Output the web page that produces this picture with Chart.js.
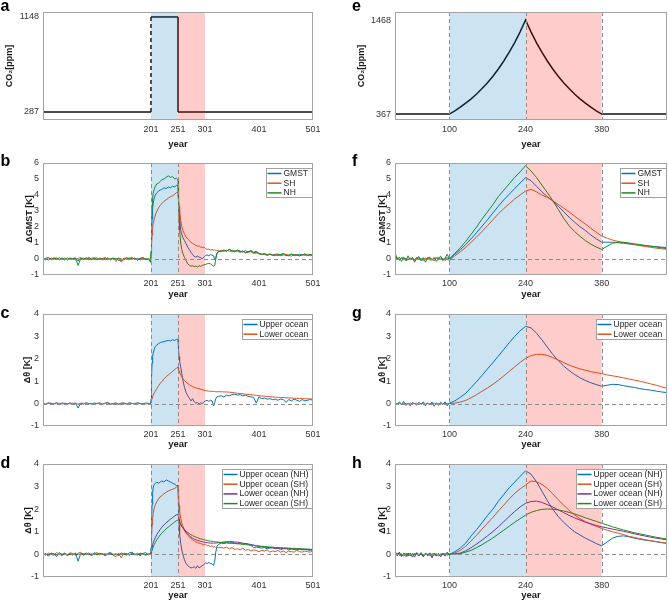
<!DOCTYPE html>
<html><head><meta charset="utf-8">
<script src="https://cdn.jsdelivr.net/npm/chart.js@4.4.1/dist/chart.umd.min.js"></script>
<style>
html,body{margin:0;padding:0;background:#fff;}
body{width:669px;height:603px;position:relative;overflow:hidden;}
canvas{position:absolute;}
</style></head><body>
<canvas id="pa" width="335" height="150" style="left:0px;top:0px"></canvas>
<canvas id="pb" width="335" height="150" style="left:0px;top:150px"></canvas>
<canvas id="pc" width="335" height="150" style="left:0px;top:300px"></canvas>
<canvas id="pd" width="335" height="153" style="left:0px;top:450px"></canvas>
<canvas id="pe" width="334" height="150" style="left:335px;top:0px"></canvas>
<canvas id="pf" width="334" height="150" style="left:335px;top:150px"></canvas>
<canvas id="pg" width="334" height="150" style="left:335px;top:300px"></canvas>
<canvas id="ph" width="334" height="153" style="left:335px;top:450px"></canvas>
<script>
// ---------- tick labels / periods ----------
const XTICKS_L = [201, 251, 301, 401, 501];
const XTICKS_R = [100, 240, 380];
const YTICKS_A = [287, 1148];
const YTICKS_E = [367, 1468];
const YTICKS_GMST = [-1, 0, 1, 2, 3, 4, 5, 6];
const YTICKS_OCEAN = [-1, 0, 1, 2, 3, 4];
const PERIOD_L = [201, 251, 301];
const PERIOD_R = [100, 240, 380];

// ---------- CO2 forcing ----------
const CO2_A_YEARS = [1, 201, 201, 251, 251, 501];
const CO2_A = [287, 287, 1148, 1148, 287, 287];
const CO2_E_YEARS = [0, 100, 110, 120, 130, 140, 150, 160, 170, 180, 190, 200, 210, 220, 230, 240,
  250, 260, 270, 280, 290, 300, 310, 320, 330, 340, 350, 360, 370, 380, 500];
const CO2_E = [367, 367, 405, 447, 494, 545, 602, 665, 734, 810, 895, 988, 1091, 1204, 1330, 1468,
  1330, 1204, 1091, 988, 895, 810, 734, 665, 602, 545, 494, 447, 405, 367, 367];

// ---------- left column years ----------
const YEARS_L = [
  1,6,11,16,21,26,31,36,41,46, 51,56,61,66,71,76,81,86,91,96, 101,106,111,116,121,126,131,136,141,146, 151,156,161,166,171,176,181,186,191,196, 200,
  201,202,203,204,205,207,209,212,215,218,221,225,229,233,237,241,245,248,
  251,252,253,254,256,258,260,263,266,269,272,275,278,281,284,287,290,293,296,299,302,305,308,311,314,317,319,321,323,326,
  331,336,341,346,351,356,361,366,371,376, 381,386,391,396,401,406,411,416,421,426, 431,436,441,446,451,456,461,466,471,476, 481,486,491,496,501
];
// panel b
const GMST_L = [
  -0.05,0.03,-0.08,0.06,0.02,-0.04,0.08,-0.02,0.05,-0.06,
  0.04,-0.03,0.07,-0.12,0.02,0.05,-0.04,0.1,-0.02,0.03,
  -0.06,0.05,0.01,-0.03,0.08,-0.05,0.04,0.02,-0.08,-0.1,
  0.06,-0.02,0.05,0.08,-0.03,0.04,-0.05,0.07,0.02,-0.04,
  -0.1,
  0.3,1.6,2.5,3.1,3.5,3.8,4.0,4.15,4.25,4.3,4.35,4.45,4.4,4.5,4.45,4.55,4.5,4.6,
  4.6,3.6,3.0,2.5,1.8,1.55,1.35,1.15,0.95,0.75,0.58,0.42,0.28,0.15,0.12,0.18,0.12,0.08,0.02,0.1,0.22,0.25,0.2,0.27,0.24,0.2,-0.05,0.1,0.38,0.45,
  0.5,0.55,0.48,0.6,0.5,0.45,0.55,0.5,0.42,0.52,
  0.45,0.52,0.42,0.48,0.35,0.3,0.32,0.28,0.3,0.25,
  0.3,0.22,0.28,0.35,0.25,0.2,0.3,0.26,0.22,0.3,
  0.25,0.32,0.22,0.28,0.25
];
const SH_L = [
  0.02,-0.06,0.05,-0.03,0.08,0.03,-0.05,0.06,0.0,-0.04,
  0.07,0.02,-0.05,0.04,0.09,-0.02,0.03,-0.06,0.05,0.08,
  -0.03,0.04,-0.07,0.06,0.02,-0.04,0.05,-0.15,0.03,-0.2,
  0.02,0.06,-0.04,0.05,0.03,-0.06,0.04,0.02,-0.05,0.03,
  -0.05,
  0.2,0.9,1.5,1.9,2.2,2.5,2.75,3.0,3.2,3.35,3.45,3.6,3.7,3.8,3.9,3.95,4.05,4.15,
  4.2,3.7,3.3,2.9,2.4,2.05,1.8,1.55,1.38,1.25,1.15,1.05,0.98,0.92,0.85,0.8,0.82,0.75,0.72,0.75,0.65,0.6,0.62,0.55,0.6,0.55,0.58,0.52,0.55,0.5,
  0.52,0.48,0.55,0.5,0.45,0.52,0.48,0.42,0.5,0.38,
  0.42,0.45,0.35,0.38,0.32,0.28,0.35,0.25,0.3,0.22,
  0.28,0.32,0.2,0.25,0.3,0.22,0.18,0.28,0.24,0.2,
  0.27,0.22,0.3,0.2,0.25
];
const NH_L = [
  -0.08,0.04,0.1,-0.05,0.02,0.07,-0.03,0.05,-0.06,0.08,
  -0.02,0.03,0.06,-0.4,0.05,-0.03,0.08,0.02,-0.05,0.04,
  0.07,-0.04,0.03,0.09,-0.06,0.02,0.05,-0.03,0.06,0.0,
  -0.05,0.08,0.03,-0.02,0.06,-0.07,0.04,0.1,-0.03,0.02,
  -0.2,
  0.5,2.4,3.3,3.8,4.1,4.35,4.55,4.7,4.75,4.85,4.95,5.0,5.1,5.2,5.1,5.15,5.0,5.05,
  4.95,3.4,2.4,1.8,1.0,0.6,0.35,0.1,-0.1,-0.3,-0.38,-0.45,-0.42,-0.48,-0.44,-0.5,-0.42,-0.46,-0.4,-0.37,-0.34,-0.3,-0.27,-0.3,-0.38,-0.45,-0.4,0.0,0.3,0.5,
  0.45,0.55,0.5,0.6,0.52,0.48,0.55,0.45,0.5,0.4,
  0.45,0.5,0.4,0.42,0.35,0.28,0.3,0.22,0.3,0.25,
  0.2,0.28,0.25,0.32,0.2,0.25,0.3,0.22,0.28,0.2,
  0.25,0.3,0.22,0.28,0.2
];
// panel c
const UPPER_L = [
  0.02,-0.03,0.04,0.0,-0.02,0.05,-0.04,0.03,0.01,-0.03,
  0.04,-0.02,0.03,-0.2,0.02,-0.03,0.04,0.0,-0.02,0.03,
  -0.01,0.04,-0.03,0.02,0.05,-0.02,0.0,0.03,-0.04,0.02,
  0.03,-0.02,0.04,0.01,-0.03,0.05,0.0,-0.02,0.03,0.01,
  -0.02,
  0.2,1.2,1.8,2.1,2.25,2.42,2.55,2.62,2.68,2.72,2.75,2.76,2.8,2.82,2.8,2.85,2.82,2.87,
  2.85,2.4,2.1,1.9,1.65,1.35,1.05,0.72,0.5,0.35,0.24,0.12,0.22,0.08,0.02,0.05,-0.02,0.03,0.0,0.08,0.12,0.15,0.1,0.15,0.12,-0.1,0.05,0.22,0.3,0.32,
  0.35,0.3,0.38,0.35,0.4,0.42,0.38,0.4,0.35,0.38,
  0.32,0.3,0.28,0.02,0.3,0.22,0.25,0.2,0.22,0.18,
  0.2,0.15,0.2,0.18,0.05,0.18,0.12,0.2,0.15,0.1,
  0.18,0.12,0.15,0.18,0.15
];
const LOWER_L = [
  0.0,-0.02,0.01,0.02,-0.01,0.0,0.02,-0.02,0.01,0.0,
  -0.01,0.02,0.0,-0.02,0.01,0.02,-0.01,0.0,0.01,-0.02,
  0.02,0.0,-0.01,0.01,0.02,-0.02,0.0,0.01,-0.01,0.02,
  0.0,-0.02,0.01,0.0,0.02,-0.01,0.01,0.0,-0.02,0.01,
  0.0,
  0.05,0.15,0.25,0.32,0.38,0.48,0.56,0.68,0.8,0.9,0.98,1.1,1.2,1.28,1.36,1.44,1.52,1.58,
  1.62,1.52,1.45,1.38,1.28,1.2,1.12,1.03,0.96,0.9,0.85,0.8,0.76,0.73,0.7,0.68,0.66,0.64,0.62,0.6,0.58,0.57,0.56,0.55,0.55,0.54,0.54,0.53,0.53,0.53,
  0.53,0.52,0.52,0.51,0.5,0.48,0.46,0.45,0.44,0.42,
  0.41,0.4,0.38,0.37,0.35,0.34,0.33,0.32,0.31,0.3,
  0.29,0.28,0.27,0.27,0.26,0.25,0.25,0.24,0.23,0.23,
  0.22,0.22,0.21,0.21,0.2
];
// panel d
const UNH_L = [
  -0.05,0.04,-0.08,0.06,0.02,-0.1,0.08,-0.03,0.05,-0.06,
  0.03,-0.04,0.07,-0.3,0.04,-0.02,0.06,0.01,-0.05,0.08,
  -0.03,0.05,0.02,-0.06,0.04,0.09,-0.02,0.03,-0.05,0.06,
  0.02,-0.04,0.07,0.1,-0.03,0.05,-0.06,0.04,0.08,-0.02,
  0.03,
  0.3,1.5,2.2,2.7,2.95,3.1,3.15,3.2,3.15,3.2,3.25,3.2,3.3,3.25,3.2,3.15,3.1,3.05,
  3.05,2.0,1.3,0.9,0.5,0.2,0.0,-0.25,-0.4,-0.5,-0.55,-0.6,-0.58,-0.55,-0.62,-0.5,-0.6,-0.55,-0.5,-0.45,-0.38,-0.4,-0.36,-0.4,-0.42,-0.48,-0.3,0.1,0.35,0.45,
  0.5,0.48,0.52,0.5,0.55,0.5,0.48,0.5,0.45,0.48,
  0.45,0.4,0.3,0.32,0.3,0.28,0.3,0.25,0.28,0.3,
  0.25,0.28,0.22,0.25,0.28,0.2,0.25,0.22,0.2,0.25,
  0.2,0.22,0.2,0.18,0.2
];
const USH_L = [
  0.03,-0.05,0.06,0.0,-0.04,0.08,0.02,-0.06,0.05,-0.02,
  0.07,0.04,-0.03,0.05,0.1,-0.04,0.02,0.06,-0.05,0.03,
  0.08,-0.02,0.04,-0.06,0.02,0.05,-0.03,-0.1,0.04,-0.15,
  0.06,0.02,-0.04,0.05,0.0,-0.03,0.06,0.02,-0.05,0.03,
  0.0,
  0.15,0.8,1.3,1.6,1.8,2.05,2.2,2.35,2.45,2.55,2.6,2.68,2.75,2.8,2.85,2.88,2.92,2.98,
  3.0,2.5,2.15,1.9,1.6,1.4,1.25,1.08,0.95,0.85,0.78,0.7,0.65,0.6,0.55,0.52,0.5,0.48,0.45,0.42,0.45,0.38,0.4,0.35,0.38,0.32,0.35,0.3,0.32,0.3,
  0.3,0.28,0.32,0.25,0.3,0.22,0.25,0.2,0.28,0.18,
  0.22,0.15,0.2,0.18,0.12,0.18,0.15,0.2,0.1,0.15,
  0.12,0.18,0.1,0.15,0.08,0.15,0.12,0.1,0.18,0.12,
  0.1,0.15,0.12,0.1,0.15
];
const LNH_L = [
  0.0,0.01,-0.01,0.02,0.0,-0.02,0.01,0.0,0.02,-0.01,
  0.0,0.01,-0.02,0.0,0.01,0.02,-0.01,0.0,0.01,-0.01,
  0.02,0.0,-0.01,0.01,0.0,0.02,-0.02,0.0,0.01,0.0,
  -0.01,0.02,0.0,0.01,-0.01,0.0,0.02,0.0,-0.01,0.01,
  0.0,
  0.05,0.2,0.32,0.42,0.5,0.63,0.74,0.88,1.0,1.1,1.2,1.3,1.4,1.48,1.56,1.63,1.7,1.75,
  1.78,1.65,1.55,1.47,1.35,1.25,1.17,1.06,0.97,0.9,0.83,0.77,0.72,0.68,0.65,0.62,0.6,0.58,0.56,0.55,0.53,0.52,0.51,0.5,0.5,0.5,0.5,0.5,0.51,0.52,
  0.53,0.55,0.56,0.57,0.56,0.55,0.54,0.52,0.5,0.48,
  0.46,0.44,0.41,0.38,0.36,0.34,0.33,0.31,0.3,0.29,
  0.28,0.27,0.27,0.26,0.25,0.25,0.24,0.24,0.23,0.23,
  0.22,0.22,0.21,0.21,0.2
];
const LSH_L = [
  0.01,0.0,-0.01,0.01,0.02,0.0,-0.01,0.01,0.0,-0.02,
  0.01,0.0,0.01,-0.01,0.0,0.02,0.0,-0.01,0.01,0.0,
  -0.01,0.01,0.0,0.02,-0.01,0.0,0.01,-0.01,0.0,0.01,
  0.0,0.01,-0.01,0.0,0.02,0.0,-0.01,0.01,0.0,-0.01,
  0.0,
  0.03,0.12,0.2,0.27,0.33,0.44,0.53,0.65,0.76,0.86,0.94,1.04,1.13,1.21,1.29,1.36,1.44,1.49,
  1.52,1.46,1.41,1.37,1.3,1.24,1.18,1.1,1.03,0.97,0.92,0.87,0.83,0.8,0.77,0.74,0.71,0.69,0.67,0.65,0.63,0.62,0.6,0.59,0.58,0.57,0.56,0.56,0.55,0.54,
  0.53,0.52,0.51,0.5,0.49,0.48,0.47,0.46,0.45,0.44,
  0.42,0.41,0.4,0.38,0.37,0.36,0.35,0.34,0.33,0.32,
  0.31,0.3,0.3,0.29,0.28,0.28,0.27,0.27,0.26,0.25,
  0.25,0.24,0.24,0.23,0.22
];

// ---------- right column years ----------
const YEARS_R = [
  0,4,8,12,16,20,24,28,32,36, 40,44,48,52,56,60,64,68,72,76, 80,84,88,92,96,100,
  110,120,130,140,150,160,170,180,190,200, 210,220,230,240,250,260,270,280,290,300,
  310,320,330,340,350,360,370,380,390,400, 410,420,430,440,450,460,470,480,490,500
];
// panel f
const GMST_R = [
  0.25,0.05,-0.06,0.08,-0.04,0.05,-0.08,0.06,0.0,-0.05,
  0.1,-0.04,0.03,-0.1,0.06,-0.02,0.05,-0.07,0.03,0.08,
  -0.04,0.06,-0.05,0.03,0.08,0.0,
  0.3,0.58,0.9,1.27,1.65,2.05,2.45,2.88,3.3,3.7,
  4.05,4.4,4.75,5.08,4.9,4.55,4.2,3.9,3.62,3.3,
  2.95,2.62,2.3,2.02,1.78,1.5,1.26,1.05,1.05,1.05,
  1.02,0.98,0.94,0.9,0.86,0.83,0.8,0.77,0.74,0.72
];
const SH_R = [
  -0.05,0.1,-0.08,0.05,0.12,-0.1,0.02,-0.05,0.1,-0.12,
  0.0,0.08,-0.1,0.05,-0.04,0.1,-0.08,0.02,-0.12,0.06,
  0.1,-0.05,0.05,-0.1,0.02,-0.1,
  0.2,0.45,0.72,1.05,1.38,1.72,2.08,2.45,2.82,3.15,
  3.45,3.75,4.0,4.25,4.35,4.2,4.0,3.85,3.65,3.42,
  3.18,2.94,2.68,2.43,2.18,1.92,1.67,1.44,1.3,1.18,
  1.1,1.02,0.96,0.9,0.84,0.78,0.73,0.68,0.64,0.6
];
const NH_R = [
  0.45,-0.05,0.12,-0.15,0.08,-0.1,0.2,-0.05,0.1,-0.2,
  0.05,0.15,-0.12,0.08,-0.2,0.05,0.12,-0.08,0.1,-0.15,
  0.05,0.18,-0.1,0.05,0.3,0.0,
  0.35,0.7,1.1,1.55,2.0,2.5,2.95,3.4,3.9,4.3,
  4.7,5.1,5.45,5.83,5.5,5.1,4.62,4.15,3.65,3.1,
  2.55,2.08,1.72,1.42,1.15,0.93,0.75,0.6,0.8,0.98,
  1.05,1.05,1.0,0.95,0.9,0.85,0.8,0.75,0.7,0.65
];
// panel g
const UPPER_R = [
  0.05,-0.03,0.08,-0.05,0.1,-0.08,0.02,-0.1,0.05,0.0,
  -0.07,0.06,-0.04,0.08,-0.1,0.03,-0.06,0.07,-0.12,0.04,
  -0.08,0.06,-0.03,0.08,-0.1,0.02,
  0.12,0.28,0.46,0.72,0.98,1.26,1.55,1.83,2.12,2.42,
  2.72,3.0,3.25,3.45,3.38,3.15,2.85,2.52,2.2,1.92,
  1.68,1.48,1.3,1.15,1.03,0.93,0.85,0.78,0.82,0.86,
  0.85,0.8,0.76,0.72,0.67,0.63,0.6,0.56,0.52,0.49
];
const LOWER_R = [
  0.02,-0.02,0.01,-0.03,0.02,0.0,-0.02,0.03,-0.01,0.0,
  0.02,-0.03,0.01,0.0,-0.02,0.02,-0.01,0.0,0.02,-0.02,
  0.01,0.0,-0.02,0.01,0.0,0.0,
  0.02,0.07,0.14,0.26,0.4,0.55,0.7,0.86,1.04,1.24,
  1.44,1.64,1.84,2.02,2.14,2.2,2.2,2.15,2.06,1.95,
  1.83,1.72,1.63,1.55,1.49,1.43,1.38,1.34,1.28,1.24,
  1.2,1.15,1.1,1.05,1.0,0.94,0.88,0.82,0.75,0.68
];
// panel h
const UNH_R = [
  0.15,-0.05,0.08,-0.1,0.05,0.0,-0.08,0.06,-0.12,0.04,
  0.0,-0.06,0.08,-0.1,0.05,-0.04,0.07,-0.12,0.03,-0.08,
  0.05,-0.1,0.06,-0.05,0.1,0.0,
  0.12,0.28,0.5,0.82,1.1,1.4,1.72,2.0,2.35,2.65,
  2.95,3.2,3.45,3.7,3.55,3.22,2.8,2.38,2.0,1.68,
  1.42,1.2,1.0,0.86,0.72,0.6,0.48,0.38,0.55,0.72,
  0.8,0.82,0.78,0.72,0.67,0.63,0.6,0.56,0.52,0.49
];
const USH_R = [
  -0.03,0.06,-0.05,0.02,-0.08,0.04,0.0,-0.06,0.03,-0.02,
  0.05,-0.04,0.02,-0.08,0.03,0.0,-0.05,0.04,-0.03,0.02,
  -0.06,0.03,-0.02,0.05,-0.04,0.0,
  0.06,0.18,0.36,0.6,0.85,1.12,1.38,1.64,1.92,2.18,
  2.45,2.7,2.9,3.07,3.25,3.22,3.1,2.92,2.68,2.42,
  2.18,1.95,1.75,1.58,1.45,1.34,1.24,1.15,1.07,1.0,
  0.94,0.88,0.8,0.75,0.7,0.65,0.61,0.57,0.53,0.49
];
const LNH_R = [
  0.05,-0.05,0.1,-0.08,0.03,-0.1,0.06,-0.04,0.0,-0.12,
  0.08,-0.05,0.02,-0.1,0.05,-0.06,0.03,-0.15,0.06,-0.04,
  0.0,-0.1,0.05,-0.08,0.04,0.0,
  0.02,0.06,0.16,0.3,0.46,0.63,0.82,1.01,1.22,1.45,
  1.68,1.9,2.1,2.26,2.34,2.36,2.3,2.2,2.1,1.97,
  1.85,1.73,1.62,1.52,1.43,1.35,1.28,1.22,1.17,1.12,
  1.07,1.02,0.97,0.91,0.86,0.81,0.76,0.72,0.68,0.64
];
const LSH_R = [
  0.0,0.02,-0.01,0.01,-0.02,0.0,0.01,-0.01,0.02,0.0,
  -0.01,0.01,0.0,-0.02,0.01,0.0,0.02,-0.01,0.0,0.01,
  -0.02,0.0,0.01,-0.01,0.0,0.0,
  0.01,0.04,0.1,0.18,0.3,0.43,0.58,0.73,0.9,1.07,
  1.25,1.42,1.58,1.74,1.86,1.94,1.99,2.01,2.0,1.97,
  1.92,1.86,1.79,1.71,1.62,1.54,1.46,1.38,1.3,1.22,
  1.15,1.08,1.02,0.96,0.91,0.86,0.81,0.76,0.72,0.68
];

// ---------- styling ----------
const FONT = "'Liberation Sans', Arial, sans-serif";
const C_BLUE = '#0072BD', C_ORANGE = '#E2531A', C_GREEN = '#1E8C1E', C_PURPLE = '#7E2F8E', C_BLACK = '#111111';

function pts(xs, ys) { return xs.map((x, i) => ({ x: x, y: ys[i] })); }

function makeDeco(p) {
  return {
    id: 'deco',
    afterDatasetsDraw(chart) {
      const ctx = chart.ctx, ca = chart.chartArea;
      const xs = chart.scales.x, ys = chart.scales.y;
      ctx.save();
      ctx.beginPath(); ctx.rect(ca.left, ca.top, ca.right - ca.left, ca.bottom - ca.top); ctx.clip();
      const b0 = xs.getPixelForValue(p.periods[0]);
      const b1 = xs.getPixelForValue(p.periods[1]);
      const b2 = xs.getPixelForValue(p.periods[2]);
      ctx.fillStyle = 'rgba(0,114,189,0.2)';
      ctx.fillRect(b0, ca.top, b1 - b0, ca.bottom - ca.top);
      ctx.fillStyle = 'rgba(255,0,0,0.2)';
      ctx.fillRect(b1, ca.top, b2 - b1, ca.bottom - ca.top);
      ctx.strokeStyle = '#8c8c8c'; ctx.lineWidth = 1; ctx.setLineDash([4, 3]);
      for (const v of p.vlines) {
        const px = Math.round(xs.getPixelForValue(v)) + 0.5;
        ctx.beginPath(); ctx.moveTo(px, ca.top); ctx.lineTo(px, ca.bottom); ctx.stroke();
      }
      if (p.zero) {
        const py = Math.round(ys.getPixelForValue(0)) + 0.5;
        ctx.beginPath(); ctx.moveTo(ca.left, py); ctx.lineTo(ca.right, py); ctx.stroke();
      }
      ctx.restore();
      ctx.save();
      ctx.strokeStyle = '#a3a3a3'; ctx.lineWidth = 1;
      ctx.strokeRect(Math.round(ca.left) + 0.5, Math.round(ca.top) + 0.5,
        Math.round(ca.right - ca.left) - 1, Math.round(ca.bottom - ca.top) - 1);
      if (p.legend) {
        const items = chart.data.datasets.map(d => ({ label: d.label, color: d.borderColor }));
        ctx.font = '8.5px ' + FONT;
        const tw = Math.max(...items.map(it => ctx.measureText(it.label).width));
        const w = Math.round(2 + 14 + 2 + tw + 3);
        const rowH = 9.7;
        const h = Math.round(10 + rowH * (items.length - 1));
        const right = Math.round(ca.right) - 1;
        const top = Math.round(ca.top) + 5;
        const left = right - w;
        ctx.fillStyle = '#ffffff';
        ctx.fillRect(left, top, w, h);
        ctx.strokeStyle = '#a0a0a0';
        ctx.strokeRect(left + 0.5, top + 0.5, w, h);
        items.forEach((it, i) => {
          const cy = top + 5.5 + i * rowH;
          ctx.strokeStyle = it.color; ctx.lineWidth = 1.5; ctx.setLineDash([]);
          ctx.beginPath(); ctx.moveTo(left + 1.5, cy); ctx.lineTo(left + 15.5, cy); ctx.stroke();
          ctx.fillStyle = '#262626'; ctx.textBaseline = 'middle'; ctx.textAlign = 'left';
          ctx.fillText(it.label, left + 17.5, cy);
        });
      }
      ctx.fillStyle = '#000';
      ctx.font = 'bold 16px ' + FONT;
      ctx.textBaseline = 'alphabetic'; ctx.textAlign = 'left';
      ctx.fillText(p.letter, p.lx, p.ly);
      ctx.restore();
    }
  };
}

function makePanel(p) {
  const datasets = p.series.map((s, i) => ({
    label: s.label,
    data: pts(s.x, s.y),
    borderColor: s.color,
    borderWidth: s.width || 1,
    pointRadius: 0,
    tension: 0,
    fill: false,
    order: -i,
    segment: s.segment
  }));
  return new Chart(document.getElementById(p.id), {
    type: 'line',
    data: { datasets: datasets },
    options: {
      responsive: false, animation: false, events: [],
      layout: { padding: { top: p.padTop, right: p.padRight, bottom: 0, left: 0 } },
      plugins: { legend: { display: false }, tooltip: { enabled: false } },
      scales: {
        x: {
          type: 'linear', min: p.xmin, max: p.xmax,
          grid: { display: false, drawTicks: false }, border: { display: false },
          afterBuildTicks: a => { a.ticks = p.xticks.map(v => ({ value: v })); },
          afterFit: a => { a.height = p.xh; },
          ticks: { autoSkip: false, maxRotation: 0, padding: p.xtickPad, color: '#333',
            font: { family: FONT, size: 9, lineHeight: 1.2 }, callback: v => String(v) },
          title: { display: true, text: 'year', color: '#1a1a1a',
            font: { family: FONT, size: 9.5, weight: 'bold', lineHeight: 1.2 },
            padding: { top: 0, bottom: p.yearPadB } }
        },
        y: {
          type: 'linear', min: p.ymin, max: p.ymax,
          grid: { display: false, drawTicks: false }, border: { display: false },
          afterBuildTicks: a => { a.ticks = p.yticks.map(v => ({ value: v })); },
          afterFit: a => { a.width = p.yw; },
          ticks: { autoSkip: false, padding: 4, color: '#333',
            font: { family: FONT, size: 9, lineHeight: 1.2 }, callback: v => String(v) },
          title: { display: true, text: p.ytitle, color: '#1a1a1a',
            font: { family: FONT, size: 9, weight: 'bold', lineHeight: 1.2 },
            padding: { top: p.ytitleX - 5.4, bottom: 0 } }
        }
      }
    },
    plugins: [makeDeco(p)]
  });
}

const vertDash = { borderDash: c => (Math.abs(c.p0.x - c.p1.x) < 0.5 ? [4, 3] : undefined) };

const L = { xmin: 1, xmax: 501, xticks: XTICKS_L, yw: 43, padRight: 22, periods: PERIOD_L, lx: 0.5 };
const R = { xmin: 0, xmax: 500, xticks: XTICKS_R, yw: 60, padRight: 2, periods: PERIOD_R, vlines: PERIOD_R, lx: 17 };
const ROW1 = { padTop: 12, xh: 30, xtickPad: 4.6, yearPadB: 0.3, ly: 11 };
const ROW2 = { padTop: 13, xh: 25, xtickPad: 3.6, yearPadB: 0, ly: 15.5 };
const ROW3 = { padTop: 14, xh: 24, xtickPad: 2.8, yearPadB: 0, ly: 17.5 };
const ROW4 = { padTop: 14, xh: 26, xtickPad: 2.8, yearPadB: 2.3, ly: 18 };

makePanel(Object.assign({}, L, ROW1, {
  id: 'pa', letter: 'a', ymin: 214, ymax: 1193, yticks: YTICKS_A, ytitle: 'CO₂[ppm]', ytitleX: 10,
  vlines: [], zero: false, legend: false,
  series: [{ label: 'CO2', x: CO2_A_YEARS, y: CO2_A, color: C_BLACK, width: 1.5, segment: vertDash }]
}));
makePanel(Object.assign({}, L, ROW2, {
  id: 'pb', letter: 'b', ymin: -1, ymax: 6, yticks: YTICKS_GMST, ytitle: 'ΔGMST [K]', ytitleX: 30,
  vlines: [201, 251], zero: true, legend: true,
  series: [
    { label: 'GMST', x: YEARS_L, y: GMST_L, color: C_BLUE },
    { label: 'SH', x: YEARS_L, y: SH_L, color: C_ORANGE },
    { label: 'NH', x: YEARS_L, y: NH_L, color: C_GREEN }
  ]
}));
makePanel(Object.assign({}, L, ROW3, {
  id: 'pc', letter: 'c', ymin: -1, ymax: 4, yticks: YTICKS_OCEAN, ytitle: 'Δθ [K]', ytitleX: 28,
  vlines: [201, 251], zero: true, legend: true,
  series: [
    { label: 'Upper ocean', x: YEARS_L, y: UPPER_L, color: C_BLUE },
    { label: 'Lower ocean', x: YEARS_L, y: LOWER_L, color: C_ORANGE }
  ]
}));
makePanel(Object.assign({}, L, ROW4, {
  id: 'pd', letter: 'd', ymin: -1, ymax: 4, yticks: YTICKS_OCEAN, ytitle: 'Δθ [K]', ytitleX: 29,
  vlines: [201, 251], zero: true, legend: true,
  series: [
    { label: 'Upper ocean (NH)', x: YEARS_L, y: UNH_L, color: C_BLUE },
    { label: 'Upper ocean (SH)', x: YEARS_L, y: USH_L, color: C_ORANGE },
    { label: 'Lower ocean (NH)', x: YEARS_L, y: LNH_L, color: C_PURPLE },
    { label: 'Lower ocean (SH)', x: YEARS_L, y: LSH_L, color: C_GREEN }
  ]
}));
makePanel(Object.assign({}, R, ROW1, {
  id: 'pe', letter: 'e', ymin: 297, ymax: 1562, yticks: YTICKS_E, ytitle: 'CO₂[ppm]', ytitleX: 26.5,
  zero: false, legend: false,
  series: [{ label: 'CO2', x: CO2_E_YEARS, y: CO2_E, color: C_BLACK, width: 1.5 }]
}));
makePanel(Object.assign({}, R, ROW2, {
  id: 'pf', letter: 'f', ymin: -1, ymax: 6, yticks: YTICKS_GMST, ytitle: 'ΔGMST [K]', ytitleX: 47.5,
  zero: true, legend: true,
  series: [
    { label: 'GMST', x: YEARS_R, y: GMST_R, color: C_BLUE },
    { label: 'SH', x: YEARS_R, y: SH_R, color: C_ORANGE },
    { label: 'NH', x: YEARS_R, y: NH_R, color: C_GREEN }
  ]
}));
makePanel(Object.assign({}, R, ROW3, {
  id: 'pg', letter: 'g', ymin: -1, ymax: 4, yticks: YTICKS_OCEAN, ytitle: 'Δθ [K]', ytitleX: 47.5,
  zero: true, legend: true,
  series: [
    { label: 'Upper ocean', x: YEARS_R, y: UPPER_R, color: C_BLUE },
    { label: 'Lower ocean', x: YEARS_R, y: LOWER_R, color: C_ORANGE }
  ]
}));
makePanel(Object.assign({}, R, ROW4, {
  id: 'ph', letter: 'h', ymin: -1, ymax: 4, yticks: YTICKS_OCEAN, ytitle: 'Δθ [K]', ytitleX: 47.5,
  zero: true, legend: true,
  series: [
    { label: 'Upper ocean (NH)', x: YEARS_R, y: UNH_R, color: C_BLUE },
    { label: 'Upper ocean (SH)', x: YEARS_R, y: USH_R, color: C_ORANGE },
    { label: 'Lower ocean (NH)', x: YEARS_R, y: LNH_R, color: C_PURPLE },
    { label: 'Lower ocean (SH)', x: YEARS_R, y: LSH_R, color: C_GREEN }
  ]
}));
</script>
</body></html>
